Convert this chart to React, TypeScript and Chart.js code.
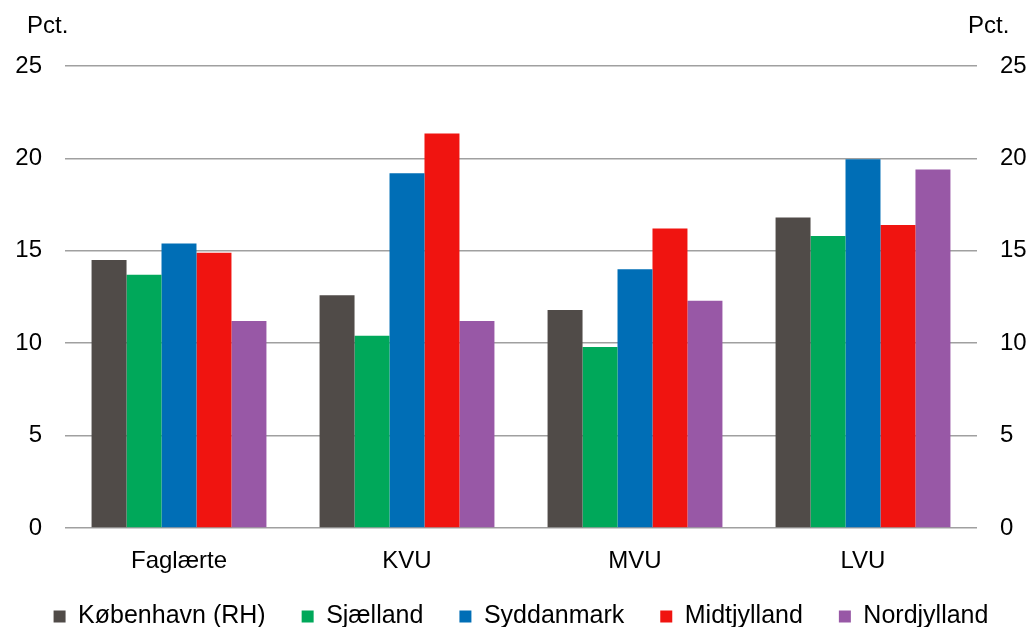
import React, { useEffect, useRef } from "react";
import { Chart, registerables } from "chart.js";

Chart.register(...registerables);

const categories = ["Faglærte", "KVU", "MVU", "LVU"];
const seriesNames = ["København (RH)", "Sjælland", "Syddanmark", "Midtjylland", "Nordjylland"];
const kobenhavn = [14.5, 12.6, 11.8, 16.8];
const sjaelland = [13.7, 10.4, 9.8, 15.8];
const syddanmark = [15.4, 19.2, 14.0, 19.95];
const midtjylland = [14.9, 21.35, 16.2, 16.4];
const nordjylland = [11.2, 11.2, 12.3, 19.4];
const seriesColors = ["#504b48", "#00a85a", "#006eb6", "#f01410", "#9858a6"];
const yTicks = [0, 5, 10, 15, 20, 25];
const unitLabel = "Pct.";

const FONT = "'Liberation Sans', Arial, sans-serif";

export default function App() {
  const ref = useRef<HTMLCanvasElement>(null);

  useEffect(() => {
    const canvas = ref.current;
    if (!canvas) return;
    const values = [kobenhavn, sjaelland, syddanmark, midtjylland, nordjylland];

    const unitPlugin = {
      id: "unitLabels",
      afterLayout(chart: any) {
        // let the category labels extend below their box without clipping
        const x = chart.scales.x;
        if (x) x.bottom = x.bottom + 14;
      },
      afterDraw(chart: any) {
        const ctx = chart.ctx;
        ctx.save();
        ctx.font = `24px ${FONT}`;
        ctx.fillStyle = "#000";
        ctx.textBaseline = "alphabetic";
        ctx.textAlign = "left";
        ctx.fillText(unitLabel, 27, 33);
        ctx.fillText(unitLabel, 968, 33);
        ctx.restore();
      },
    };

    const chart = new Chart(canvas, {
      type: "bar",
      data: {
        labels: categories,
        datasets: seriesNames.map((name, i) => ({
          label: name,
          data: values[i],
          backgroundColor: seriesColors[i],
          borderWidth: 0,
          categoryPercentage: 0.767,
          barPercentage: 1.0,
          yAxisID: "y",
        })),
      },
      options: {
        animation: false,
        responsive: false,
        maintainAspectRatio: false,
        layout: { padding: { top: 66, bottom: 0, left: 10, right: 0 } },
        plugins: {
          legend: {
            position: "bottom",
            labels: {
              boxWidth: 12,
              boxHeight: 12,
              padding: 36,
              color: "#000",
              font: { family: FONT, size: 25 },
            },
          },
          tooltip: { enabled: false },
        },
        scales: {
          x: {
            grid: { display: false, drawTicks: false },
            border: { display: false },
            ticks: { color: "#000", font: { family: FONT, size: 24 }, padding: 19 },
            afterFit(scale: any) {
              scale.height = 40;
            },
          },
          y: {
            position: "left",
            min: 0,
            max: 25,
            afterBuildTicks(scale: any) {
              scale.ticks = yTicks.map((v) => ({ value: v }));
            },
            afterFit(scale: any) {
              scale.width = 55;
            },
            grid: { color: "#a0a0a0", lineWidth: 1.5, drawTicks: false },
            border: { display: false },
            ticks: { color: "#000", font: { family: FONT, size: 24 }, padding: 23 },
          },
          y2: {
            position: "right",
            min: 0,
            max: 25,
            afterBuildTicks(scale: any) {
              scale.ticks = yTicks.map((v) => ({ value: v }));
            },
            afterFit(scale: any) {
              scale.width = 55;
            },
            grid: { display: false, drawTicks: false },
            border: { display: false },
            ticks: { color: "#000", font: { family: FONT, size: 24 }, padding: 23 },
          },
        },
      },
      plugins: [unitPlugin],
    });
    return () => chart.destroy();
  }, []);

  return (
    <div style={{ position: "fixed", left: 0, top: 0, width: 1032, height: 627, overflow: "hidden", background: "#fff" }}>
      <canvas ref={ref} width={1032} height={639} style={{ width: 1032, height: 639, display: "block" }} />
    </div>
  );
}
